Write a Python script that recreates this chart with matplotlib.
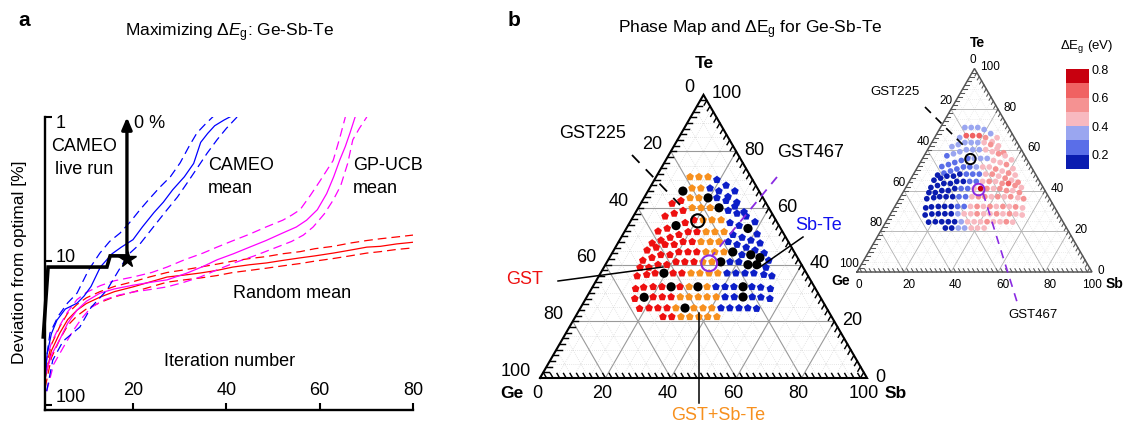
import numpy as np
import matplotlib.pyplot as plt
from matplotlib.colors import ListedColormap, BoundaryNorm
from matplotlib.cm import ScalarMappable
from matplotlib.ticker import NullLocator

plt.rcParams['font.family'] = ['Liberation Sans', 'DejaVu Sans']
plt.rcParams['mathtext.fontset'] = 'custom'
plt.rcParams['mathtext.rm'] = 'Liberation Sans'
plt.rcParams['mathtext.it'] = 'Liberation Sans:italic'
plt.rcParams['mathtext.bf'] = 'Liberation Sans:bold'

W, H = 1123, 426

# ---------------- panel a data (iteration, deviation from optimal %) ----------------
cameo_x = [1.2, 1.6, 2.5, 3.7, 5.5, 8, 9.5, 11, 13, 15.5, 17.5, 20, 22, 24.5, 26.5, 28.5, 31, 33, 34.5, 36, 37.5, 39.5, 41.5]
cameo_y = [65, 44, 32, 25.7, 21.5, 19.6, 17.5, 15, 11, 8.9, 8.0, 7.1, 5.8, 4.6, 3.9, 3.2, 2.6, 2.1, 1.5, 1.3, 1.15, 1.05, 0.97]
cameo_hi_x = [1.2, 2.2, 4, 6, 8, 10.5, 12.9, 15, 17.2, 19.5, 21.5, 23.5, 25.8, 28, 30.1, 32, 33.7, 35.5, 37.5]
cameo_hi_y = [55, 31.6, 24, 19.5, 16.7, 11.5, 8.8, 7.3, 6.4, 5.3, 4.4, 3.7, 3.06, 2.6, 2.08, 1.6, 1.29, 1.12, 0.97]
cameo_lo_x = [1.5, 2.8, 5, 8.6, 11, 14.4, 17, 19, 21.5, 24, 27.3, 29.5, 31.6, 34, 35.9, 38, 40, 42.3]
cameo_lo_y = [80, 48.7, 36, 28.7, 21, 15.9, 11.5, 9.0, 7.6, 6.0, 4.4, 3.6, 2.87, 2.2, 1.78, 1.44, 1.2, 1.0]

gp_x = [1.2, 2.5, 4.3, 6, 8, 10, 12.9, 16, 20, 24, 27.3, 31.6, 35, 38, 41.5, 45, 48.5, 52, 55, 57.2, 59.5, 61.5, 63, 64.3, 65.5, 66.5, 67.6]
gp_y = [62, 45, 35, 27, 21.9, 19, 16.7, 15.6, 14.7, 14.0, 13.5, 12.1, 10.9, 9.8, 8.9, 8.0, 7.2, 6.4, 5.8, 5.2, 4.4, 3.4, 2.6, 1.99, 1.6, 1.29, 1.0]
gp_hi_x = [1.2, 2.5, 4.3, 6, 8, 10, 13, 16, 20, 24, 27.3, 31, 35, 38, 41.5, 45, 48.5, 52.1, 54, 55.8, 58, 60, 62.9, 64.3, 65.5]
gp_hi_y = [52, 37, 28, 22.5, 18.5, 16.5, 14.8, 13.7, 12.9, 12.0, 11.0, 9.8, 8.8, 8.0, 7.2, 6.5, 5.8, 5.2, 4.8, 4.4, 3.5, 2.8, 2.0, 1.4, 1.0]
gp_lo_x = [1.5, 3, 5, 7, 9, 11, 14, 17, 20, 24, 27.3, 31, 34.4, 38, 42, 46, 50, 54, 56.5, 58.6, 61, 62.9, 64.5, 66, 67.1, 68.5, 70.1]
gp_lo_y = [80, 52, 40, 31, 25, 21, 18.5, 17.2, 16.4, 15.7, 15.1, 14.0, 12.9, 11.5, 10.2, 9.2, 8.2, 7.3, 6.6, 5.8, 4.7, 3.77, 3.0, 2.1, 1.44, 1.2, 1.0]

rand_x = [1.2, 2.5, 4.3, 6, 8, 10, 12.9, 16, 20, 23.5, 27.3, 31, 34.4, 38, 41.4, 45, 48.6, 52, 55.8, 59, 62.9, 66.5, 70.1, 73, 76.5, 80]
rand_y = [65, 42, 31.6, 25.5, 21.9, 19.7, 17.8, 16.3, 15.1, 14.0, 12.9, 12.5, 12.1, 11.6, 11.0, 10.6, 10.3, 9.9, 9.5, 9.2, 8.8, 8.4, 8.0, 7.9, 7.6, 7.4]
rand_hi_y = [58, 38, 28.5, 23, 20, 18.0, 16.3, 15.0, 13.9, 12.9, 12.0, 11.5, 11.0, 10.5, 10.0, 9.6, 9.3, 8.9, 8.6, 8.2, 7.9, 7.5, 7.2, 7.0, 6.8, 6.6]
rand_lo_y = [75, 47, 35, 28, 24, 21.5, 19.4, 17.7, 16.4, 15.2, 14.0, 13.5, 13.1, 12.6, 12.0, 11.6, 11.2, 10.8, 10.4, 10.0, 9.6, 9.2, 8.8, 8.6, 8.3, 8.1]

live_x = [0.77, 1.8, 14.4, 15.1, 18.7]
live_y = [33.6, 11.0, 11.0, 9.2, 9.2]
live_best = (18.8, 9.6)

# ---------------- panel b data: composition rows (Sb %, Te %) ----------------
row_sb = [
    [10.4, 13.1, 15.9, 19.1, 22.9, 26.6],
    [10.7, 13.0, 15.7, 18.5, 21.7, 25.5, 29.2],
    [9.6, 11.8, 14.1, 16.8, 19.6, 22.3, 25.6, 29.3, 33.1],
    [9.7, 12.0, 14.2, 16.5, 19.2, 22.0, 24.7, 28.0, 31.2, 34.5, 38.2],
    [10.2, 12.5, 14.7, 17.0, 19.2, 22.0, 24.7, 27.5, 30.7, 34.0, 37.2, 41.0],
    [10.5, 12.7, 15.0, 17.2, 19.5, 22.2, 25.0, 27.7, 30.5, 33.7, 37.0, 40.2, 43.5],
    [10.2, 12.5, 14.7, 17.5, 19.7, 22.5, 25.2, 28.0, 30.7, 33.5, 36.7, 40.0, 43.2, 46.5],
    [10.7, 13.0, 15.2, 18.0, 20.2, 23.0, 25.7, 28.5, 31.2, 34.0, 36.7, 40.0, 42.7, 46.0, 49.2],
    [11.1, 13.8, 16.1, 18.8, 21.1, 23.8, 26.6, 29.3, 32.1, 34.8, 37.6, 40.3, 43.6, 46.3, 49.6],
    [11.7, 14.4, 16.7, 19.4, 22.2, 24.9, 27.7, 30.4, 33.2, 35.9, 38.7, 41.4, 44.2, 46.9, 50.2, 52.9],
    [13.5, 15.7, 18.5, 21.2, 24.0, 26.7, 29.5, 32.2, 35.0, 37.7, 40.5, 43.2, 46.0, 48.7, 51.5, 54.7],
    [15.0, 17.6, 20.3, 23.1, 25.8, 28.6, 31.3, 34.1, 36.8, 39.6, 42.3, 45.1, 47.8, 50.6, 53.3, 56.3],
    [18.2, 21.0, 23.7, 26.5, 29.2, 32.0, 34.7, 37.5, 40.2, 43.0, 45.7, 48.5, 51.2, 54.0],
    [26.8, 29.5, 32.3, 35.0, 37.8, 40.5, 43.3],
]
row_te = [
    [71, 71, 71, 70, 68, 66],
    [66, 67, 67, 67, 66, 64, 62],
    [61.6, 62.6, 63.6, 63.6, 63.6, 63.6, 62.6, 60.6, 58.6],
    [57.1, 58.1, 59.1, 60.1, 60.1, 60.1, 60.1, 59.1, 58.1, 57.1, 55.1],
    [51.8, 52.8, 53.8, 54.8, 55.8, 55.8, 55.8, 55.8, 54.8, 53.8, 52.8, 50.8],
    [47.6, 48.6, 49.6, 50.6, 51.6, 51.6, 51.6, 51.6, 51.6, 50.6, 49.6, 48.6, 47.6],
    [45.1, 46.1, 47.1, 47.1, 48.1, 48.1, 48.1, 48.1, 48.1, 48.1, 47.1, 46.1, 45.1, 44.1],
    [41.5, 42.5, 43.5, 43.5, 44.5, 44.5, 44.5, 44.5, 44.5, 44.5, 44.5, 43.5, 43.5, 42.5, 41.5],
    [39, 39, 40, 40, 41, 41, 41, 41, 41, 41, 41, 41, 40, 40, 39],
    [36, 36.5, 37, 37, 37, 37, 37, 37, 37, 37, 37, 37, 37, 37, 36.5, 36],
    [31.5, 32, 32.2, 32.2, 32.2, 32.2, 32.2, 32.2, 32.2, 32.2, 32.2, 32.2, 32.2, 32.2, 32, 31.5],
    [28, 28.5, 28.6, 28.6, 28.6, 28.6, 28.6, 28.6, 28.6, 28.6, 28.6, 28.6, 28.6, 28.6, 28.5, 28],
    [24.5, 24.7, 24.7, 24.7, 24.7, 24.7, 24.7, 24.7, 24.7, 24.7, 24.7, 24.7, 24.7, 24.5],
    [21.6, 21.6, 21.6, 21.6, 21.6, 21.6, 21.6],
]
# phase per point: R = GST, O = GST+Sb-Te, B = Sb-Te, K = measured point
row_phase = [
    "OOOBBB",
    "KOOBBBB",
    "RROOKBBBB",
    "RRROOOKBBBB",
    "RRKRROOOBBKB",
    "RRRRRROOOBBBB",
    "RRRRRROOOBBBBB",
    "RRRRRRROOOKBKKB",
    "RRRRRRROOKBBKKB",
    "RRRKRROOOOBBBBBB",
    "RRRRKROKOBBBKBBB",
    "RKRRROOOOOBBKBBB",
    "RRRROKOOOBBBBB",
    "RROOOOO",
]
# Delta Eg bin per point: digit d means d/10 .. (d+1)/10 eV
row_deg = [
    "333334",
    "3666544",
    "333334545",
    "23333344544",
    "222223334454",
    "1222223445454",
    "11111222454545",
    "111111224545654",
    "111112247545545",
    "1111122455454545",
    "1111122454545454",
    "1111134454454544",
    "11111344454454",
    "1133444",
]
gst225 = (20.5, 55.5)
gst467 = (31.5, 40.5)
deg_bounds = [0.1, 0.2, 0.3, 0.4, 0.5, 0.6, 0.7, 0.8]
deg_colors = ['#0a1cb0', '#5a6ee8', '#9aa6f0', '#f8b9c0', '#f59292', '#f06262', '#c8000f']

fig = plt.figure(figsize=(W / 100, H / 100), dpi=100)


def fx(px):
    return px / W


def fy(py):
    return 1 - py / H


def ftext(px, py, s, **kw):
    kw.setdefault('ha', 'center')
    kw.setdefault('va', 'center')
    fig.text(fx(px), fy(py), s, **kw)


# ================= panel a =================
ax = fig.add_axes([fx(45), fy(410), (413 - 45) / W, (410 - 117) / H])
ax.set_yscale('log')
ax.set_xlim(1.14, 80)
ax.set_ylim(108, 1)
for s in ['top', 'right']:
    ax.spines[s].set_visible(False)
for s in ['left', 'bottom']:
    ax.spines[s].set_linewidth(1.7)
ax.set_xticks([20, 40, 60, 80])
ax.set_yticks([1, 10, 100])
ax.yaxis.set_minor_locator(NullLocator())
ax.set_xticklabels([])
ax.set_yticklabels([])
ax.tick_params(direction='in', length=5, width=1.5)

dash = dict(lw=0.9, dashes=(7, 4))
ax.plot(rand_x, rand_y, color='#ff0000', lw=0.9)
ax.plot(rand_x, rand_hi_y, color='#ff0000', **dash)
ax.plot(rand_x, rand_lo_y, color='#ff0000', **dash)
ax.plot(gp_x, gp_y, color='#ff00ff', lw=0.9)
ax.plot(gp_hi_x, gp_hi_y, color='#ff00ff', **dash)
ax.plot(gp_lo_x, gp_lo_y, color='#ff00ff', **dash)
ax.plot(cameo_x, cameo_y, color='#0000ff', lw=0.9)
ax.plot(cameo_hi_x, cameo_hi_y, color='#0000ff', **dash)
ax.plot(cameo_lo_x, cameo_lo_y, color='#0000ff', **dash)
ax.plot(live_x, live_y, color='black', lw=2.6, solid_joinstyle='miter', clip_on=False, zorder=5)
ax.plot(*live_best, marker='*', ms=13, color='black', zorder=6)
ax.annotate('', xy=(live_x[-1], 0.96), xytext=(live_x[-1], live_y[-1]),
            arrowprops=dict(arrowstyle='-|>,head_length=0.7,head_width=0.3', lw=2.4, color='black'),
            annotation_clip=False, zorder=6)

for v in [20, 40, 60, 80]:
    ax.annotate(str(v), (v, 0), xycoords=('data', 'axes fraction'), xytext=(0, 14),
                textcoords='offset points', ha='center', va='center', fontsize=13)
for v, dy in [(1, -4.5), (10, 2.5), (100, 5.5)]:
    ax.annotate(str(v), (0, v), xycoords=('axes fraction', 'data'), xytext=(7.5, dy),
                textcoords='offset points', ha='left', va='center', fontsize=13)

ftext(20, 262, 'Deviation from optimal [%]', rotation=90, fontsize=12.5)
ftext(230, 362, 'Iteration number', fontsize=13)
ftext(84, 158, 'CAMEO\nlive run', fontsize=13, linespacing=1.45)
ftext(134, 123, '0 %', fontsize=13, ha='left')
ftext(208, 177, 'CAMEO\nmean', fontsize=13, ha='left', linespacing=1.45)
ftext(353, 177, 'GP-UCB\nmean', fontsize=13, ha='left', linespacing=1.45)
ftext(292, 293, 'Random mean', fontsize=13)
ftext(230, 33, r'Maximizing $\Delta \mathit{E}_{\rm g}$: Ge-Sb-Te', fontsize=12.5)
ftext(24, 20, 'a', fontsize=15, fontweight='bold')
ftext(514, 20, 'b', fontsize=15, fontweight='bold')
ftext(750, 30, r'Phase Map and $\Delta$E$_{\rm g}$ for Ge-Sb-Te', fontsize=12.5)

# ================= ternary helpers =================
S3 = np.sqrt(3) / 2


def tern(sb, te):
    sb = np.asarray(sb, float)
    te = np.asarray(te, float)
    return sb + te / 2, te * S3


def draw_frame(axt, ppu, edge_lw, edge_col, major_col, major_lw, minor_col, tick_len, fs,
               bot_off, left_off, right_off):
    for v in range(5, 100, 5):
        if v % 20 == 0:
            col, lw, ls = major_col, major_lw, '-'
        else:
            col, lw, ls = minor_col, 0.5, (0, (1, 2))
        for a, b in [((0, v), (100 - v, v)), ((v, 0), (v, 100 - v)), ((100 - v, 0), (0, 100 - v))]:
            x, y = tern([a[0], b[0]], [a[1], b[1]])
            axt.plot(x, y, color=col, lw=lw, ls=ls, zorder=1)
    for v in range(2, 100, 2):
        for a, b in [((v, 0), (v - tick_len, tick_len)),
                     ((100 - v, v), (100 - v, v - tick_len)),
                     ((0, 100 - v), (tick_len, 100 - v))]:
            x, y = tern([a[0], b[0]], [a[1], b[1]])
            axt.plot(x, y, color=edge_col, lw=edge_lw * 0.7, zorder=2)
    x, y = tern([0, 100, 0, 0], [0, 0, 100, 0])
    axt.plot(x, y, color=edge_col, lw=edge_lw, zorder=3, solid_joinstyle='miter')
    for v in range(0, 101, 20):
        x, y = tern(v, 0)
        ha = 'center' if v == 100 and bot_off[2] == 'left' else bot_off[2]
        dx = 0 if v == 100 and bot_off[2] == 'left' else bot_off[0]
        axt.text(x + dx / ppu, y - bot_off[1] / ppu, str(v), ha=ha, va='center', fontsize=fs)
        x, y = tern(0, 100 - v)
        axt.text(x - left_off[0] / ppu, y + left_off[1] / ppu, str(v), ha='right', va='center', fontsize=fs)
        x, y = tern(100 - v, v)
        axt.text(x + right_off[0] / ppu, y + right_off[1] / ppu, str(v), ha='left', va='center', fontsize=fs)


# flatten composition rows
sb_all = np.concatenate([np.asarray(r, float) for r in row_sb])
te_all = np.concatenate([np.asarray(r, float) for r in row_te])
phase_all = np.array(list(''.join(row_phase)))
deg_all = np.array([int(c) for c in ''.join(row_deg)]) / 10 + 0.05
px_all, py_all = tern(sb_all, te_all)

# ================= main ternary =================
PM = 3.27  # pixels per composition unit
axm = fig.add_axes([fx(490), 0, 410 / W, 366 / H])
axm.set_xlim((490 - 540) / PM, (900 - 540) / PM)
axm.set_ylim((378 - 426) / PM, (378 - 60) / PM)
axm.axis('off')


def mp(px, py):
    return (px - 540) / PM, (378 - py) / PM


draw_frame(axm, PM, 1.5, 'black', '#9a9a9a', 0.8, '#cfcfcf', 1.6, 13,
           (-3, 15, 'center'), (9, 7), (8, 1))
axm.text(*mp(512, 393), 'Ge', fontsize=12.5, fontweight='bold', ha='center', va='center')
axm.text(*mp(896, 393), 'Sb', fontsize=12.5, fontweight='bold', ha='center', va='center')
axm.text(*mp(704, 63), 'Te', fontsize=12.5, fontweight='bold', ha='center', va='center')

phase_colors = {'R': '#ee1010', 'O': '#f7901e', 'B': '#0c1ec8'}
for ph, col in phase_colors.items():
    m = phase_all == ph
    axm.scatter(px_all[m], py_all[m], s=34, marker='p', color=col, edgecolors='none', zorder=4)
m = phase_all == 'K'
axm.scatter(px_all[m], py_all[m], s=44, marker='o', color='black', edgecolors='none', zorder=5)
axm.scatter(*tern(*gst225), s=90, marker='o', facecolors='none', edgecolors='black', lw=1.5, zorder=6)
axm.scatter(*tern(*gst467), s=130, marker='o', facecolors='none', edgecolors='#8a2be2', lw=1.5, zorder=6)

axm.plot(*zip(mp(632, 155), mp(680, 205)), color='black', lw=1.3, dashes=(6, 5), zorder=6)
axm.plot(*zip(mp(777, 177), mp(712, 256)), color='#8a2be2', lw=1.3, dashes=(5, 4), zorder=6)
axm.plot(*zip(mp(558, 281), mp(663, 267)), color='black', lw=1.1, zorder=6, clip_on=False)
axm.plot(*zip(mp(803, 237), mp(760, 267)), color='black', lw=1.1, zorder=6, clip_on=False)
axm.plot(*zip(mp(699, 313), mp(699, 403)), color='black', lw=1.1, zorder=6, clip_on=False)
axm.text(*mp(593, 133), 'GST225', fontsize=13, ha='center', va='center')
axm.text(*mp(811, 152), 'GST467', fontsize=13, ha='center', va='center')
axm.text(*mp(819, 225), 'Sb-Te', fontsize=13, ha='center', va='center', color='#1010ee')
axm.text(*mp(525, 280), 'GST', fontsize=13, ha='center', va='center', color='#ee1010')
axm.text(*mp(718, 416), 'GST+Sb-Te', fontsize=13, ha='center', va='center', color='#f7901e')

# ================= inset ternary (Delta Eg) =================
PI = 2.35
axi = fig.add_axes([fx(830), fy(330), 293 / W, 300 / H])
axi.set_xlim((830 - 857) / PI, (1123 - 857) / PI)
axi.set_ylim((272 - 330) / PI, (272 - 30) / PI)
axi.axis('off')


def ip(px, py):
    return (px - 857) / PI, (272 - py) / PI


draw_frame(axi, PI, 1.1, '#555555', '#b0b0b0', 0.6, '#dedede', 1.6, 8.5,
           (-2, 13, 'left'), (-2, 8), (5.5, 1.5))
axi.text(*ip(841, 281), 'Ge', fontsize=10, fontweight='bold', ha='center', va='center')
axi.text(*ip(1114, 284), 'Sb', fontsize=10, fontweight='bold', ha='center', va='center')
axi.text(*ip(977, 43), 'Te', fontsize=10, fontweight='bold', ha='center', va='center')

cmap = ListedColormap(deg_colors)
norm = BoundaryNorm(deg_bounds, cmap.N)
axi.scatter(px_all, py_all, c=deg_all, cmap=cmap, norm=norm, s=17, edgecolors='none', zorder=4)
axi.scatter(*tern(*gst225), s=55, marker='o', facecolors='none', edgecolors='black', lw=1.4, zorder=6)
axi.scatter(*tern(*gst467), s=70, marker='o', facecolors='none', edgecolors='#8a2be2', lw=1.4, zorder=6)
axi.plot(*zip(ip(925, 107), ip(965, 147)), color='black', lw=1.2, dashes=(5, 4), zorder=6)
axi.plot(*zip(ip(983, 193), ip(1018, 305)), color='#8a2be2', lw=1.2, dashes=(5, 4), zorder=6, clip_on=False)
axi.text(*ip(895, 92), 'GST225', fontsize=9.5, ha='center', va='center')
axi.text(*ip(1033, 315), 'GST467', fontsize=9.5, ha='center', va='center')

cax = fig.add_axes([fx(1066), fy(169), 23 / W, 100 / H])
cb = fig.colorbar(ScalarMappable(norm=norm, cmap=cmap), cax=cax, ticks=[0.2, 0.4, 0.6, 0.8])
cb.outline.set_visible(False)
cb.ax.minorticks_off()
cb.ax.tick_params(length=0, labelsize=9, pad=2)
cb.ax.set_yticklabels(['0.2', '0.4', '0.6', '0.8'])
ftext(1087, 47, r'$\Delta$E$_{\rm g}$ (eV)', fontsize=9.5)

fig.savefig('out.png', dpi=100)
